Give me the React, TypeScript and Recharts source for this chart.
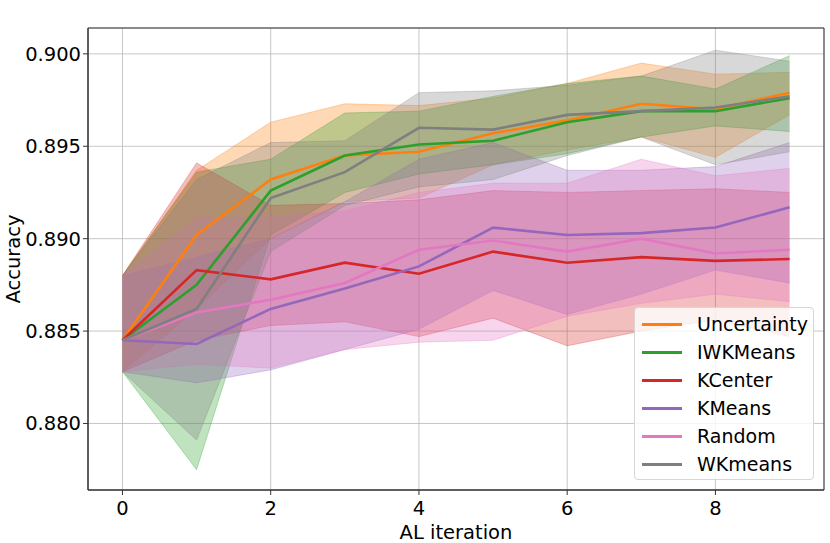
import {
  ComposedChart,
  Area,
  Line,
  XAxis,
  YAxis,
  CartesianGrid,
  Legend,
  ReferenceArea,
} from 'recharts'

const iterations = [0, 1, 2, 3, 4, 5, 6, 7, 8, 9]

const uncertaintyMean = [0.8845, 0.8902, 0.8932, 0.8945, 0.8947, 0.8957, 0.8964, 0.8973, 0.897, 0.8979]
const uncertaintyLow = [0.8828, 0.8862, 0.89, 0.892, 0.8922, 0.894, 0.8948, 0.8955, 0.8944, 0.8967]
const uncertaintyHigh = [0.888, 0.8937, 0.8963, 0.8973, 0.8972, 0.8976, 0.8984, 0.8995, 0.8989, 0.899]

const iwkMean = [0.8845, 0.8875, 0.8926, 0.8945, 0.8951, 0.8953, 0.8963, 0.8969, 0.8969, 0.8976]
const iwkLow = [0.8828, 0.8775, 0.8902, 0.8925, 0.8935, 0.894, 0.8946, 0.8955, 0.8961, 0.8958]
const iwkHigh = [0.888, 0.8936, 0.8943, 0.8968, 0.8969, 0.8977, 0.8984, 0.8988, 0.8981, 0.8999]

const kcenterMean = [0.8845, 0.8883, 0.8878, 0.8887, 0.8881, 0.8893, 0.8887, 0.889, 0.8888, 0.8889]
const kcenterLow = [0.8828, 0.8845, 0.8853, 0.8855, 0.8847, 0.8857, 0.8842, 0.885, 0.8856, 0.8847]
const kcenterHigh = [0.888, 0.8941, 0.8918, 0.8919, 0.8921, 0.8926, 0.8925, 0.8926, 0.8927, 0.8925]

const kmeansMean = [0.8845, 0.8843, 0.8862, 0.8873, 0.8885, 0.8906, 0.8902, 0.8903, 0.8906, 0.8917]
const kmeansLow = [0.8828, 0.8822, 0.8829, 0.884, 0.8851, 0.8872, 0.8859, 0.887, 0.8883, 0.8876]
const kmeansHigh = [0.888, 0.889, 0.89, 0.892, 0.8943, 0.8952, 0.8937, 0.8937, 0.8939, 0.8952]

const randomMean = [0.8845, 0.886, 0.8867, 0.8876, 0.8894, 0.8899, 0.8893, 0.89, 0.8892, 0.8894]
const randomLow = [0.8828, 0.8832, 0.883, 0.884, 0.8844, 0.8845, 0.8858, 0.8865, 0.887, 0.8866]
const randomHigh = [0.888, 0.8911, 0.8912, 0.8915, 0.8925, 0.893, 0.893, 0.8943, 0.8934, 0.8938]

const wkMean = [0.8845, 0.8862, 0.8922, 0.8936, 0.896, 0.8959, 0.8967, 0.8969, 0.8971, 0.8977]
const wkLow = [0.8828, 0.8791, 0.8893, 0.8918, 0.8928, 0.8932, 0.8945, 0.8955, 0.894, 0.8947]
const wkHigh = [0.888, 0.8932, 0.8952, 0.8953, 0.8979, 0.898, 0.8983, 0.8988, 0.9002, 0.8996]

const xTicks = [0, 2, 4, 6, 8]
const yTicks = [0.88, 0.885, 0.89, 0.895, 0.9]
const xDomain = [-0.465, 9.465]
const yDomain = [0.8764, 0.9014]

const series = [
  { key: 'uncertainty', name: 'Uncertainty', color: '#ff7f0e', mean: uncertaintyMean, low: uncertaintyLow, high: uncertaintyHigh },
  { key: 'iwk', name: 'IWKMeans', color: '#2ca02c', mean: iwkMean, low: iwkLow, high: iwkHigh },
  { key: 'kcenter', name: 'KCenter', color: '#d62728', mean: kcenterMean, low: kcenterLow, high: kcenterHigh },
  { key: 'kmeans', name: 'KMeans', color: '#9467bd', mean: kmeansMean, low: kmeansLow, high: kmeansHigh },
  { key: 'random', name: 'Random', color: '#e377c2', mean: randomMean, low: randomLow, high: randomHigh },
  { key: 'wk', name: 'WKmeans', color: '#7f7f7f', mean: wkMean, low: wkLow, high: wkHigh },
]

const data = iterations.map((it, i) => {
  const row: Record<string, any> = { it }
  series.forEach((s) => {
    row[s.key] = s.mean[i]
    row[s.key + 'Band'] = [s.low[i], s.high[i]]
  })
  return row
})

const FONT = '"DejaVu Sans", sans-serif'

function LegendBox() {
  return (
    <div
      style={{
        width: 180,
        height: 173,
        boxSizing: 'border-box',
        background: 'rgba(255,255,255,0.8)',
        border: '1px solid #d6d6d6',
        borderRadius: 4,
        paddingTop: 2,
        fontFamily: FONT,
        fontSize: 19,
        color: '#000',
      }}
    >
      {series.map((s) => (
        <div key={s.key} style={{ display: 'flex', alignItems: 'center', height: 28 }}>
          <span style={{ display: 'inline-block', width: 40, height: 3, background: s.color, marginLeft: 7, marginRight: 15 }} />
          <span>{s.name}</span>
        </div>
      ))}
    </div>
  )
}

export default function App() {
  return (
    <div style={{ position: 'absolute', left: 0, top: 0, width: 830, height: 543, background: '#fff' }}>
      <ComposedChart width={830} height={543} data={data} margin={{ top: 28, right: 6, left: 0, bottom: 0 }}>
        <XAxis
          dataKey="it"
          type="number"
          domain={xDomain}
          ticks={xTicks}
          allowDataOverflow
          height={53}
          tickSize={5}
          tickMargin={6}
          tick={{ fill: '#000', fontSize: 19.5, fontFamily: FONT }}
          stroke="#333"
          label={{
            content: () => (
              <text x={456} y={539} textAnchor="middle" fontSize={19.5} fontFamily={FONT} fill="#000">
                AL iteration
              </text>
            ),
          }}
        />
        <XAxis
          xAxisId="top"
          orientation="top"
          dataKey="it"
          type="number"
          domain={xDomain}
          height={0}
          tick={false}
          tickLine={false}
          axisLine={false}
          label={{
            content: () => (
              <text x={456} y={24} textAnchor="middle" fontSize={23} fontFamily={FONT} fill="#000">
                Accuracy metric
              </text>
            ),
          }}
        />
        <YAxis
          type="number"
          domain={yDomain}
          ticks={yTicks}
          allowDataOverflow
          width={88}
          tickSize={5}
          tickMargin={2}
          tickFormatter={(v: number) => v.toFixed(3)}
          tick={{ fill: '#000', fontSize: 19.5, fontFamily: FONT }}
          stroke="#333"
          label={{
            content: () => (
              <text
                x={20}
                y={259}
                transform="rotate(-90 20 259)"
                textAnchor="middle"
                fontSize={19.5}
                fontFamily={FONT}
                fill="#000"
              >
                Accuracy
              </text>
            ),
          }}
        />
        {series.map((s) => (
          <Area
            key={s.key + 'Band'}
            dataKey={s.key + 'Band'}
            type="linear"
            fill={s.color}
            fillOpacity={0.3}
            stroke={s.color}
            strokeOpacity={0.3}
            strokeWidth={1}
            isAnimationActive={false}
            legendType="none"
          />
        ))}
        <CartesianGrid stroke="#b0b0b0" strokeOpacity={0.7} />
        {series.map((s) => (
          <Line
            key={s.key}
            dataKey={s.key}
            name={s.name}
            type="linear"
            stroke={s.color}
            strokeWidth={2.6}
            dot={false}
            isAnimationActive={false}
          />
        ))}
        <ReferenceArea
          x1={xDomain[0]}
          x2={xDomain[1]}
          y1={yDomain[0]}
          y2={yDomain[1]}
          fill="none"
          stroke="#333"
          strokeWidth={1}
          ifOverflow="visible"
        />
        <Legend
          layout="vertical"
          align="center"
          verticalAlign="middle"
          wrapperStyle={{ left: 634, top: 307, width: 180, height: 173 }}
          content={() => <LegendBox />}
        />
      </ComposedChart>
    </div>
  )
}
